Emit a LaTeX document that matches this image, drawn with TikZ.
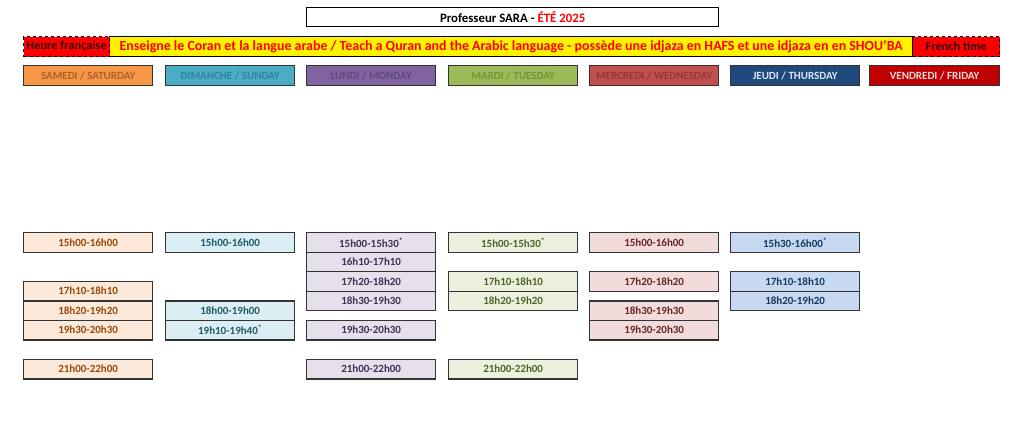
\documentclass[tikz,border=0pt]{standalone}
\usepackage{fontspec}
\setmainfont{Carlito}
\definecolor{samhead}{HTML}{F79646}
\definecolor{samtext}{HTML}{A8602A}
\definecolor{samcell}{HTML}{FDE9D9}
\definecolor{samcelltext}{HTML}{984807}
\definecolor{dimhead}{HTML}{4BACC6}
\definecolor{dimtext}{HTML}{31849B}
\definecolor{dimcell}{HTML}{DAEEF3}
\definecolor{dimcelltext}{HTML}{215968}
\definecolor{lunhead}{HTML}{8064A2}
\definecolor{luntext}{HTML}{5F497A}
\definecolor{luncell}{HTML}{E5E0EC}
\definecolor{luncelltext}{HTML}{3F3151}
\definecolor{marhead}{HTML}{9BBB59}
\definecolor{martext}{HTML}{76923C}
\definecolor{marcell}{HTML}{EBF1DE}
\definecolor{marcelltext}{HTML}{4F6228}
\definecolor{merhead}{HTML}{C0504D}
\definecolor{mertext}{HTML}{943634}
\definecolor{mercell}{HTML}{F2DCDB}
\definecolor{mercelltext}{HTML}{632523}
\definecolor{jeuhead}{HTML}{1F497D}
\definecolor{jeutext}{HTML}{DCE6F2}
\definecolor{jeucell}{HTML}{C6D9F1}
\definecolor{jeucelltext}{HTML}{17375E}
\definecolor{venhead}{HTML}{C00000}
\definecolor{ventext}{HTML}{F2DCDB}
\definecolor{redtext}{HTML}{FF0000}
\definecolor{darktext}{HTML}{3B0000}
\newcommand{\slotmark}{\textsuperscript{*}}
\begin{document}
\begin{tikzpicture}[x=1pt,y=-1pt,
    box/.style={anchor=north west,inner sep=0pt,draw=black!80,line width=1.3pt},
    dayhead/.style={box,minimum width=129pt,minimum height=20pt,
      font=\fontsize{11}{13}\selectfont\bfseries},
    slot/.style={box,minimum width=129pt,minimum height=19.5pt,
      font=\fontsize{11}{13}\selectfont\bfseries},
    sam/.style={slot,fill=samcell,text=samcelltext},
    dim/.style={slot,fill=dimcell,text=dimcelltext},
    lun/.style={slot,fill=luncell,text=luncelltext},
    mar/.style={slot,fill=marcell,text=marcelltext},
    mer/.style={slot,fill=mercell,text=mercelltext},
    jeu/.style={slot,fill=jeucell,text=jeucelltext},
    redbox/.style={box,fill=red,draw=black,dashed,line width=1.3pt,
      text=darktext,font=\fontsize{12.4}{14}\selectfont\bfseries}]
    % page
    \useasboundingbox [fill=white] (0,0) rectangle (1024,428);
    % title
    \node [box,fill=white,draw=black,minimum width=412pt,minimum height=19pt,
      font=\fontsize{12.8}{14}\selectfont\bfseries] (title) at (306,7)
      {Professeur SARA - \textcolor{redtext}{ÉTÉ 2025}};
    % banner
    \node [box,fill=yellow,draw=black,minimum width=803pt,minimum height=20pt,
      text=redtext,font=\fontsize{13.9}{15}\selectfont\bfseries] (banner) at (109,36)
      {Enseigne le Coran et la langue arabe / Teach a Quran and the Arabic language - possède une idjaza en HAFS et une idjaza en en SHOU'BA};
    \node [redbox,minimum width=86pt,minimum height=20pt] (heure) at (23,36) {Heure française};
    \node [redbox,minimum width=87pt,minimum height=20pt] (french) at (912,36) {French time};
    % day headers
    \node [dayhead,fill=samhead,text=samtext] (samedi) at (23,65) {SAMEDI / SATURDAY};
    \node [dayhead,fill=dimhead,text=dimtext] (dimanche) at (165,65) {DIMANCHE / SUNDAY};
    \node [dayhead,fill=lunhead,text=luntext] (lundi) at (306,65) {LUNDI / MONDAY};
    \node [dayhead,fill=marhead,text=martext] (mardi) at (448,65) {MARDI / TUESDAY};
    \node [dayhead,fill=merhead,text=mertext] (mercredi) at (589,65) {MERCREDI / WEDNESDAY};
    \node [dayhead,fill=jeuhead,text=jeutext] (jeudi) at (730,65) {JEUDI / THURSDAY};
    \node [dayhead,fill=venhead,text=ventext,minimum width=130pt] (vendredi) at (869,65) {VENDREDI / FRIDAY};
    % samedi
    \node [sam] (sam1) at (23,232) {15h00-16h00};
    \node [sam] (sam2) at (23,280.75) {17h10-18h10};
    \node [sam] (sam3) at (23,300.25) {18h20-19h20};
    \node [sam] (sam4) at (23,319.75) {19h30-20h30};
    \node [sam] (sam5) at (23,358.75) {21h00-22h00};
    % dimanche
    \node [dim] (dim1) at (165,232) {15h00-16h00};
    \node [dim] (dim2) at (165,300.25) {18h00-19h00};
    \node [dim] (dim3) at (165,319.75) {19h10-19h40\slotmark};
    % lundi
    \node [lun] (lun1) at (306,232) {15h00-15h30\slotmark};
    \node [lun] (lun2) at (306,251.5) {16h10-17h10};
    \node [lun] (lun3) at (306,271) {17h20-18h20};
    \node [lun] (lun4) at (306,290.5) {18h30-19h30};
    \node [lun] (lun5) at (306,319.75) {19h30-20h30};
    \node [lun] (lun6) at (306,358.75) {21h00-22h00};
    % mardi
    \node [mar] (mar1) at (448,232) {15h00-15h30\slotmark};
    \node [mar] (mar2) at (448,271) {17h10-18h10};
    \node [mar] (mar3) at (448,290.5) {18h20-19h20};
    \node [mar] (mar4) at (448,358.75) {21h00-22h00};
    % mercredi
    \node [mer] (mer1) at (589,232) {15h00-16h00};
    \node [mer] (mer2) at (589,271) {17h20-18h20};
    \node [mer] (mer3) at (589,300.25) {18h30-19h30};
    \node [mer] (mer4) at (589,319.75) {19h30-20h30};
    % jeudi
    \node [jeu] (jeu1) at (730,232) {15h30-16h00\slotmark};
    \node [jeu] (jeu2) at (730,271) {17h10-18h10};
    \node [jeu] (jeu3) at (730,290.5) {18h20-19h20};
\end{tikzpicture}
\end{document}
